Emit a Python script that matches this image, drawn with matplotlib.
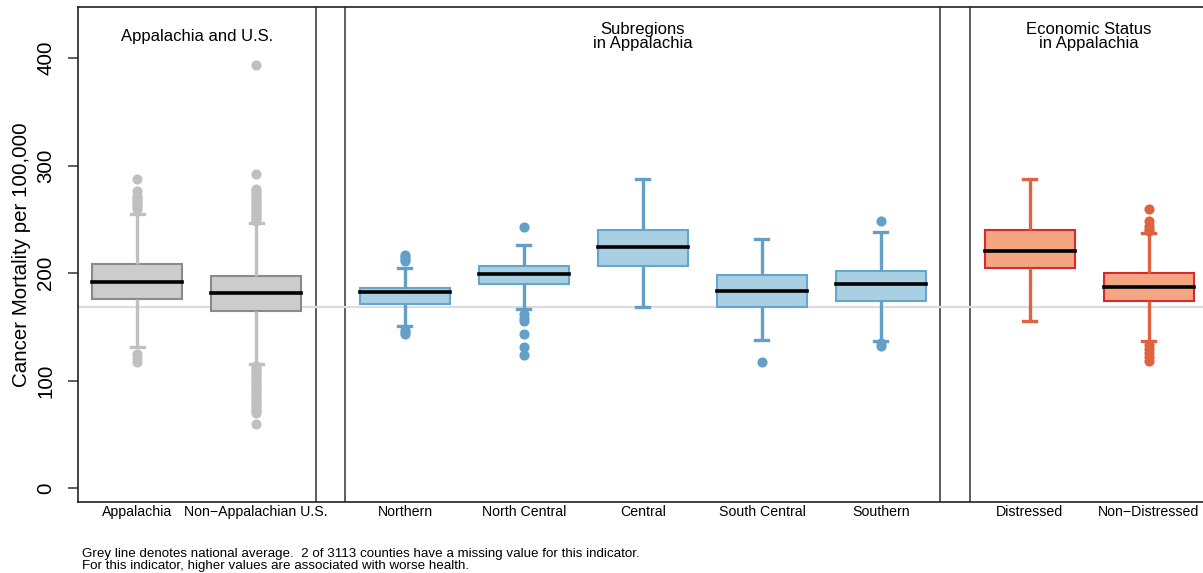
import matplotlib
matplotlib.use("Agg")
import matplotlib.pyplot as plt

plt.rcParams['font.family'] = ['Liberation Sans', 'DejaVu Sans']

# ---------------- data ----------------
categories = ["Appalachia", "Non\u2212Appalachian U.S.", "Northern", "North Central",
              "Central", "South Central", "Southern", "Distressed", "Non\u2212Distressed"]
q1 = [175.8, 164.3, 170.9, 189.5, 206.2, 168.4, 174.0, 204.4, 174.0]
medians = [191.6, 181.1, 182.0, 199.1, 223.9, 183.0, 189.5, 220.8, 186.7]
q3 = [208.4, 197.5, 186.3, 206.8, 240.3, 198.4, 202.2, 240.3, 200.0]
whisker_low = [130.9, 115.7, 150.7, 166.2, 168.4, 137.4, 136.7, 155.1, 136.4]
whisker_high = [254.6, 246.8, 204.4, 225.7, 287.4, 231.3, 237.8, 287.4, 236.9]
outliers = [
    [260, 262, 264, 266, 268, 270, 272, 276.5, 287.5, 124.5, 121, 117.5],
    [248, 250, 252, 254, 256, 258, 260, 262, 264, 266, 268, 270, 272, 274, 276, 278,
     292, 394,
     114, 112, 110, 108, 106, 104, 102, 100, 98, 96, 94, 92, 90, 88, 86, 84, 82, 80,
     78, 76, 74, 72, 70, 60],
    [211, 213, 215, 217, 143, 145, 147],
    [243, 162, 158, 155, 143, 131, 124],
    [],
    [117.5],
    [248, 132.5, 134.5],
    [],
    [260, 248, 244, 241, 239, 133, 129, 126, 122, 118],
]
group_of = [0, 0, 1, 1, 1, 1, 1, 2, 2]
group_titles = ["Appalachia and U.S.", "Subregions\nin Appalachia", "Economic Status\nin Appalachia"]
national_average = 168.7
y_ticks = [0, 100, 200, 300, 400]
y_label = "Cancer Mortality per 100,000"
footnote = ["Grey line denotes national average.  2 of 3113 counties have a missing value for this indicator.",
            "For this indicator, higher values are associated with worse health."]

# ---------------- layout / style ----------------
positions = [1, 2, 3.25, 4.25, 5.25, 6.25, 7.25, 8.5, 9.5]
separators = [2.5, 2.75, 7.75, 8.0]
title_x = [1.5, 5.25, 9.0]
styles = [
    dict(fill='#cccccc', edge='#8a8a8a', whisk='#c0c0c0'),
    dict(fill='#a8cfe2', edge='#66a5cd', whisk='#62a0c8'),
    dict(fill='#f4a582', edge='#d52a2e', whisk='#e0633f'),
]

fig = plt.figure(figsize=(12.03, 5.73), dpi=100)
ax = fig.add_axes([0.0646, 0.1244, 0.9397, 0.8628])
ax.set_xlim(0.5, 10.0)
ax.set_ylim(-12.7, 447.2)

for s in separators:
    ax.axvline(s, color='#333333', lw=1.1, zorder=1)
ax.axhline(national_average, color='#dcdcdc', lw=1.6, zorder=1.5)

for i in range(len(categories)):
    st = styles[group_of[i]]
    stats = [dict(med=medians[i], q1=q1[i], q3=q3[i], whislo=whisker_low[i],
                  whishi=whisker_high[i], fliers=outliers[i])]
    ax.bxp(stats, positions=[positions[i]], widths=0.756, capwidths=0.11,
           patch_artist=True, showfliers=True, manage_ticks=False, zorder=2,
           boxprops=dict(facecolor=st['fill'], edgecolor=st['edge'], linewidth=1.5),
           whiskerprops=dict(color=st['whisk'], linewidth=2.4, solid_capstyle='butt'),
           capprops=dict(color=st['whisk'], linewidth=2.4),
           medianprops=dict(color='black', linewidth=2.6, solid_capstyle='projecting'),
           flierprops=dict(marker='o', markerfacecolor=st['whisk'], markeredgecolor='none',
                           markersize=7.3, linestyle='none'))

for x, t in zip(title_x, group_titles):
    ax.text(x, 420.5, t, ha='center', va='center', fontsize=12, linespacing=0.92)

ax.set_xticks(positions)
ax.set_xticklabels(categories, fontsize=10.2)
ax.tick_params(axis='x', length=0, pad=2.5)
ax.set_yticks(y_ticks)
ax.set_yticklabels([str(v) for v in y_ticks], fontsize=14.8, rotation=90, va='center')
ax.tick_params(axis='y', length=7, width=1.1, pad=9, color='#333333')

for sp in ax.spines.values():
    sp.set_color('#222222')
    sp.set_linewidth(1.2)

fig.text(22 / 1203, 0.5 * ((573 - 7.3) + (573 - 501.7)) / 573, y_label, rotation=90,
         ha='center', va='center', fontsize=14.8)

fig.text(82 / 1203, 1 - 553.5 / 573, footnote[0], ha='left', va='center', fontsize=9.6)
fig.text(82 / 1203, 1 - 566.5 / 573, footnote[1], ha='left', va='center', fontsize=9.6)

fig.savefig("out.png", dpi=100)
